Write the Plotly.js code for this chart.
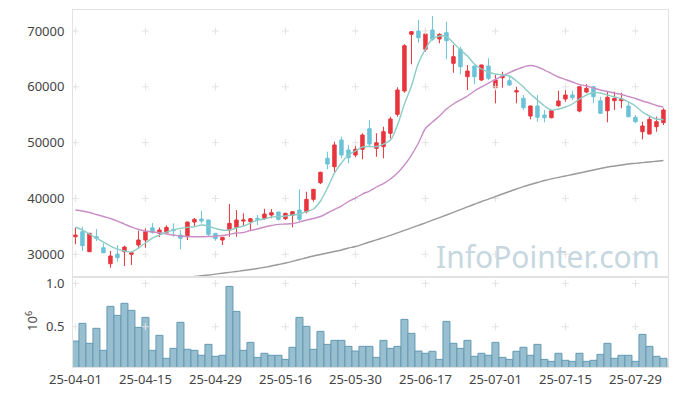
<!DOCTYPE html>
<html>
<head>
<meta charset="utf-8">
<script src="https://cdn.plot.ly/plotly-3.0.1.min.js"></script>
<style>html,body{margin:0;padding:0;background:#fff;}#chart{width:677px;height:396px;}</style>
</head>
<body>
<div id="chart"></div>
<script>
// Trading days (YY-MM-DD)
const dates = [
"25-04-01","25-04-02","25-04-03","25-04-04","25-04-07","25-04-08","25-04-09","25-04-10","25-04-11","25-04-14",
"25-04-15","25-04-16","25-04-17","25-04-18","25-04-21","25-04-22","25-04-23","25-04-24","25-04-25","25-04-28",
"25-04-29","25-04-30","25-05-02","25-05-07","25-05-08","25-05-09","25-05-12","25-05-13","25-05-14","25-05-15",
"25-05-16","25-05-19","25-05-20","25-05-21","25-05-22","25-05-23","25-05-26","25-05-27","25-05-28","25-05-29",
"25-05-30","25-06-02","25-06-04","25-06-05","25-06-09","25-06-10","25-06-11","25-06-12","25-06-13","25-06-16",
"25-06-17","25-06-18","25-06-19","25-06-20","25-06-23","25-06-24","25-06-25","25-06-26","25-06-27","25-06-30",
"25-07-01","25-07-02","25-07-03","25-07-04","25-07-07","25-07-08","25-07-09","25-07-10","25-07-11","25-07-14",
"25-07-15","25-07-16","25-07-17","25-07-18","25-07-21","25-07-22","25-07-23","25-07-24","25-07-25","25-07-28",
"25-07-29","25-07-30","25-07-31","25-08-01","25-08-04"];

const openP = [33140,34040,30450,33140,31170,28300,30040,30450,29990,31650,
32550,34750,33770,33860,34470,33440,33140,35770,36310,36130,
33750,32550,34340,34820,35950,35830,36440,36440,37030,37570,
36360,36970,37920,37620,39840,42820,47190,45680,50470,48680,
47780,48800,52490,48980,49270,51670,55070,59250,69410,70000,
66720,70180,68570,69700,64210,66720,61810,63730,61220,63730,
59840,61630,61090,59070,57940,54770,56560,54950,54460,56610,
57810,58530,55660,59070,60020,57510,55720,57510,57510,56560,
54540,51960,51540,52850,53570];
const highP = [34750,34930,33800,34520,31960,30580,31650,31530,30450,34210,
34640,35590,34790,35180,35540,34340,35800,36490,37800,36200,
33800,33100,39000,37920,37330,36490,37030,38160,38100,37620,
37440,37740,41630,41200,41700,44790,48370,50160,51060,49570,
49570,51670,54050,51670,52850,54640,59910,67620,69950,71970,
70480,72690,69590,71670,67490,67190,63910,63800,63950,65110,
62120,62710,61810,60020,58530,56600,58530,55840,55840,59300,
59550,59300,60140,60500,60050,58230,59120,59120,58940,57330,
54950,53750,54640,54640,56150];
const lowP = [31780,30580,30400,32370,30200,27580,28660,27890,28070,31170,
31170,33680,33090,33750,33140,30880,32550,35060,35540,33140,
32420,31650,33140,33140,35060,34160,35240,36130,36440,36010,
36130,34820,35830,37330,39410,42580,45220,44680,47190,46290,
47370,47010,49270,47470,47190,50770,54640,58940,64030,67900,
66290,68260,67800,64930,62530,62240,59430,60500,61040,61220,
57040,59840,60140,57040,55840,54180,53750,53640,54360,56430,
57330,57640,55430,58840,57040,55130,53640,55840,56150,54540,
53460,50590,51500,51960,53160];
const closeP = [33440,31530,33750,32850,30270,29680,29380,31290,30270,32550,
34040,33930,34340,34820,34210,32850,35770,36260,35950,33570,
32780,33030,35540,36130,36130,36360,36260,37210,37440,36260,
37330,37620,36260,39840,41630,44680,46170,49570,47780,47300,
48800,51360,49750,49980,51960,54230,59430,67370,69880,68800,
69460,68510,69410,68260,65400,63600,62830,61810,63910,61520,
61220,61940,60320,59300,56260,56560,54540,54460,55720,57460,
58530,58050,60020,59730,58230,55250,58120,57940,57810,54640,
53750,52980,54180,53750,55840];

// Volume in millions of shares
const volumeM = [0.335,0.539,0.309,0.482,0.228,0.735,0.631,0.770,0.689,0.493,
0.608,0.228,0.401,0.136,0.251,0.551,0.240,0.228,0.171,0.297,
0.159,0.171,0.965,0.677,0.228,0.320,0.147,0.194,0.171,0.171,
0.124,0.263,0.608,0.505,0.240,0.447,0.297,0.343,0.343,0.274,
0.220,0.274,0.274,0.147,0.343,0.251,0.274,0.585,0.424,0.220,
0.194,0.217,0.124,0.562,0.309,0.251,0.343,0.159,0.194,0.171,
0.320,0.147,0.124,0.217,0.263,0.171,0.297,0.124,0.101,0.194,
0.113,0.101,0.194,0.101,0.113,0.182,0.309,0.136,0.171,0.171,
0.101,0.412,0.274,0.159,0.136];

// Moving average lines
const maShort = [34880,34340,33620,32900,32190,31470,30930,30580,30400,31110,
32010,32900,33440,33980,34340,34640,34820,34930,35240,35060,
34610,34340,34340,34700,35060,35590,36130,36310,36670,36760,
36850,37030,37210,37650,38100,39540,41870,44550,46350,47780,
48500,49210,49300,49300,49750,50470,53160,56920,60140,64270,
66770,68570,69100,69010,67850,66600,65520,64090,63190,62650,
62290,62120,61940,61040,59970,58710,57640,56560,55840,56020,
56380,56920,57810,58530,58980,58890,58530,58170,57900,57280,
56560,55490,54770,54230,54140];
const maMid = [37920,37740,37480,37120,36760,36400,35950,35410,34880,34430,
34160,33980,33890,33620,33440,33260,33170,33140,33140,33170,
33230,33350,33570,33800,33890,34250,34520,34880,35150,35360,
35410,35500,35770,36130,36400,36760,37390,38010,38640,39450,
40070,40790,41330,42050,42670,43480,44550,45990,47780,49930,
52530,53690,54770,56020,56920,57640,58350,59250,59970,60680,
61310,61940,62560,63100,63550,63820,63550,63010,62380,61760,
61310,60860,60410,60140,59790,59430,59160,58890,58620,58260,
57900,57460,57100,56650,56380];
const maLong = [23230,23410,23590,23770,23950,24130,24300,24480,24660,24840,
25020,25200,25330,25470,25610,25740,25880,26020,26150,26280,
26440,26600,26760,26920,27080,27260,27440,27660,27890,28160,
28430,28730,29050,29380,29680,29950,30220,30490,30760,31110,
31380,31780,32190,32580,32980,33370,33820,34270,34720,35160,
35630,36100,36560,37030,37510,38000,38480,38960,39450,39890,
40340,40790,41240,41690,42130,42490,42850,43210,43510,43780,
44020,44290,44550,44820,45090,45360,45630,45810,45990,46170,
46290,46420,46540,46670,46790];

const tickLabels = ["25-04-01","25-04-15","25-04-29","25-05-16","25-05-30","25-06-17","25-07-01","25-07-15","25-07-29"];
const priceTicks = [30000,40000,50000,60000,70000];
const volTicks = [0.5,1.0];

const FONT = "Noto Sans, Open Sans, DejaVu Sans, sans-serif";
const frame = "#e2e2e2";

// grid crosses at tick intersections
const cx1 = [], cy1 = [], cx2 = [], cy2 = [];
tickLabels.forEach(t => { priceTicks.forEach(v => { cx1.push(t); cy1.push(v); }); volTicks.forEach(v => { cx2.push(t); cy2.push(v); }); });
const crossMarker = {symbol: "cross-thin", size: 5, color: "#e3e3e3", line: {color: "#e3e3e3", width: 1}};

const traces = [
  {type: "candlestick", x: dates, open: openP, high: highP, low: lowP, close: closeP, xaxis: "x", yaxis: "y",
   increasing: {line: {color: "#e8353d", width: 1}, fillcolor: "#e8353d"},
   decreasing: {line: {color: "#6cc3d8", width: 1}, fillcolor: "#6cc3d8"},
   whiskerwidth: 0, showlegend: false, hoverinfo: "skip"},
  {type: "bar", x: dates, y: volumeM, xaxis: "x2", yaxis: "y2",
   marker: {color: "#98bfcf", line: {color: "#6399b2", width: 1}}, showlegend: false, hoverinfo: "skip"},
  {type: "scatter", mode: "markers", x: cx1, y: cy1, xaxis: "x", yaxis: "y", marker: crossMarker, hoverinfo: "skip", showlegend: false},
  {type: "scatter", mode: "markers", x: cx2, y: cy2, xaxis: "x2", yaxis: "y2", marker: crossMarker, hoverinfo: "skip", showlegend: false},
  {type: "scatter", mode: "lines", x: dates, y: maLong, xaxis: "x", yaxis: "y", line: {color: "#9a9a9a", width: 1.4, shape: "spline"}, showlegend: false, hoverinfo: "skip"},
  {type: "scatter", mode: "lines", x: dates, y: maMid, xaxis: "x", yaxis: "y", line: {color: "#c98ec6", width: 1.4, shape: "spline"}, showlegend: false, hoverinfo: "skip"},
  {type: "scatter", mode: "lines", x: dates, y: maShort, xaxis: "x", yaxis: "y", line: {color: "#8ccdc5", width: 1.4, shape: "spline"}, showlegend: false, hoverinfo: "skip"}
];

const layout = {
  width: 677, height: 396,
  margin: {l: 73, r: 9, t: 10, b: 29, pad: 0},
  paper_bgcolor: "#ffffff", plot_bgcolor: "#ffffff",
  font: {family: FONT, size: 13, color: "#444"},
  showlegend: false,
  bargap: 0,
  xaxis: {domain: [0, 1], anchor: "y", type: "category", categoryorder: "array", categoryarray: dates,
          range: [-0.35, 84.65], showticklabels: false,
          ticks: "", showgrid: false, zeroline: false, showline: true, mirror: true, linecolor: frame,
          rangeslider: {visible: false}, fixedrange: true},
  xaxis2: {domain: [0, 1], anchor: "y2", type: "category", categoryorder: "array", categoryarray: dates,
           range: [-0.35, 84.65],
           tickmode: "array", tickvals: tickLabels, ticktext: tickLabels, ticks: "", tickangle: 0,
           tickfont: {family: FONT, size: 13, color: "#444"},
           showgrid: false, zeroline: false, showline: true, mirror: true, linecolor: frame, fixedrange: true},
  yaxis: {domain: [0.252, 1], anchor: "x", range: [25917, 73763], tickmode: "array", tickvals: priceTicks,
          ticktext: priceTicks.map(v => String(v)), ticks: "", ticklabelstandoff: 5,
          tickfont: {family: FONT, size: 13, color: "#444"},
          showgrid: false, zeroline: false, showline: true, mirror: true, linecolor: frame, fixedrange: true},
  yaxis2: {domain: [0, 0.252], anchor: "x2", range: [0.036, 1.073], tickmode: "array", tickvals: volTicks,
           ticktext: volTicks.map(v => v.toFixed(1)), ticks: "", ticklabelstandoff: 5,
           tickfont: {family: FONT, size: 13, color: "#444"},
           showgrid: false, zeroline: false, showline: true, mirror: true, linecolor: frame, fixedrange: true},
  annotations: [
    {text: "InfoPointer.com", xref: "paper", yref: "paper", x: 0.99, y: 0.31, xanchor: "right", yanchor: "middle",
     showarrow: false, font: {family: FONT, size: 30, color: "#c6d7e0"}},
    {text: "10<sup>6</sup>", xref: "paper", yref: "paper", x: -0.07, y: 0.13, xanchor: "center", yanchor: "middle",
     textangle: -90, showarrow: false, font: {family: FONT, size: 13, color: "#444"}}
  ]
};

Plotly.newPlot("chart", traces, layout, {staticPlot: true, displayModeBar: false});
</script>
</body>
</html>
